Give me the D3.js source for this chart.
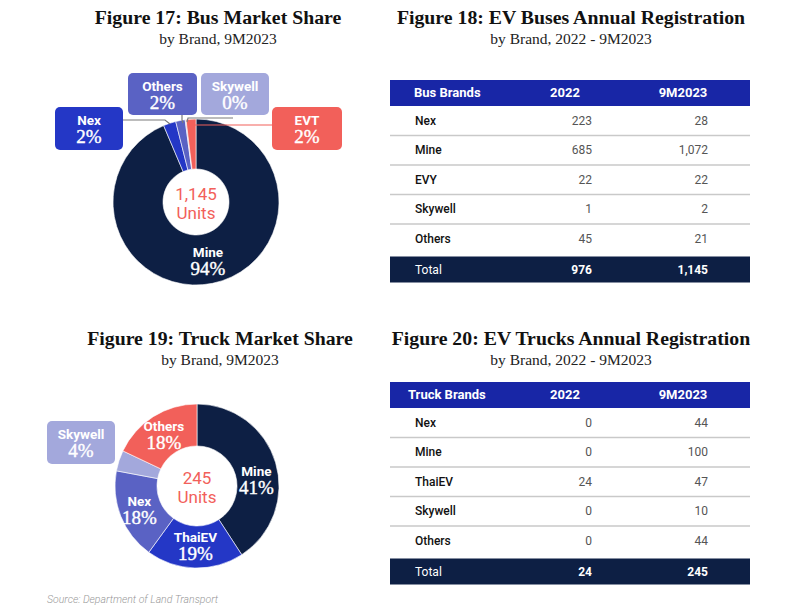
<!DOCTYPE html>
<html>
<head>
<meta charset="utf-8">
<script src="https://cdn.jsdelivr.net/npm/d3@7"></script>
<style>
  body { margin: 0; background: #fff; }
  svg text { font-family: Roboto, "Noto Sans", sans-serif; }
</style>
</head>
<body>
<div id="chart-area"></div>
<script>
// Table data (row order as in the tables)
const busBrands = ["Nex", "Mine", "EVY", "Skywell", "Others"];
const bus2022 = [223, 685, 22, 1, 45];
const bus9M2023 = [28, 1072, 22, 2, 21];
const busTotals = [976, 1145];

const truckBrands = ["Nex", "Mine", "ThaiEV", "Skywell", "Others"];
const truck2022 = [0, 0, 24, 0, 0];
const truck9M2023 = [44, 100, 47, 10, 44];
const truckTotals = [24, 245];

// Donut data (clockwise from 12 o'clock)
const busPieLabels = ["Mine", "Nex", "Others", "Skywell", "EVT"];
const busPieValues = [1072, 28, 21, 2, 22];
const truckPieLabels = ["Mine", "ThaiEV", "Nex", "Skywell", "Others"];
const truckPieValues = [100, 47, 44, 10, 44];

const colors = ["#0d1f44", "#2437c6", "#5a62c4", "#a3a8dc", "#f2605a"];
const serif = "'Liberation Serif', 'DejaVu Serif', serif";

const width = 793, height = 608;

const svg = d3.select("#chart-area")
    .append("svg")
    .attr("width", width)
    .attr("height", height);

svg.append("rect").attr("width", width).attr("height", height).attr("fill", "#fff");

// titles
function drawTitle(cx, y, title, sub) {
    svg.append("text")
        .attr("x", cx).attr("y", y)
        .attr("text-anchor", "middle")
        .style("font-family", serif)
        .style("font-weight", "bold")
        .style("font-size", "19.8px")
        .attr("fill", "#111")
        .text(title);
    svg.append("text")
        .attr("x", cx).attr("y", y + 20)
        .attr("text-anchor", "middle")
        .style("font-family", serif)
        .style("font-size", "15.5px")
        .attr("fill", "#222")
        .text(sub);
}
drawTitle(218, 24, "Figure 17: Bus Market Share", "by Brand, 9M2023");
drawTitle(571, 24, "Figure 18: EV Buses Annual Registration", "by Brand, 2022 - 9M2023");
drawTitle(220, 345, "Figure 19: Truck Market Share", "by Brand, 9M2023");
drawTitle(571, 345, "Figure 20: EV Trucks Annual Registration", "by Brand, 2022 - 9M2023");

// two-line label: bold brand name + serif percentage
function drawLabel(g, x, y, name, pct) {
    g.append("text")
        .attr("x", x).attr("y", y)
        .attr("text-anchor", "middle")
        .style("font-weight", "bold")
        .style("font-size", "13.5px")
        .attr("fill", "#fff")
        .text(name);
    g.append("text")
        .attr("x", x).attr("y", y + 18)
        .attr("text-anchor", "middle")
        .style("font-family", serif)
        .style("font-size", "19px")
        .attr("fill", "#fff")
        .attr("stroke", "#fff")
        .attr("stroke-width", 0.4)
        .text(pct);
}

function drawDonut(cx, cy, rOuter, rInner, labels, values, total, inside, boxes) {
    const g = svg.append("g").attr("transform", `translate(${cx},${cy})`);
    const pie = d3.pie().sort(null).value(d => d.value);
    const arcs = pie(labels.map((l, i) => ({ label: l, value: values[i], color: colors[i] })));
    const arc = d3.arc().innerRadius(rInner).outerRadius(rOuter);
    const sum = d3.sum(values);

    g.selectAll("path.slice")
        .data(arcs)
        .enter()
        .append("path")
        .attr("class", "slice")
        .attr("d", arc)
        .attr("fill", d => d.data.color)
        .attr("stroke", "#fff")
        .attr("stroke-width", 0.6);

    // centre text
    g.append("text").attr("x", 0).attr("y", -2)
        .attr("text-anchor", "middle")
        .style("font-size", "17px")
        .attr("fill", "#f2605a")
        .text(d3.format(",")(total));
    g.append("text").attr("x", 0).attr("y", 17)
        .attr("text-anchor", "middle")
        .style("font-size", "17px")
        .attr("fill", "#f2605a")
        .text("Units");

    const labelArc = d3.arc().innerRadius(inside.r).outerRadius(inside.r);
    arcs.forEach(a => {
        const pct = Math.round(a.data.value / sum * 100) + "%";
        if (a.data.label in inside.names) {
            const [x, y] = labelArc.centroid(a);
            drawLabel(g, x, y - 4 + inside.names[a.data.label], a.data.label, pct);
        }
        const b = boxes[a.data.label];
        if (b) {
            if (b.line) {
                svg.append("polyline")
                    .attr("points", b.line.map(p => p.join(",")).join(" "))
                    .attr("fill", "none")
                    .attr("stroke", b.lineColor || "#7a7a7a")
                    .attr("stroke-width", 1.2);
            }
            svg.append("rect")
                .attr("x", b.x).attr("y", b.y)
                .attr("width", b.w).attr("height", b.h)
                .attr("rx", 5)
                .attr("fill", a.data.color);
            drawLabel(svg, b.x + b.w / 2, b.y + 18, a.data.label, pct);
        }
    });
}

// inside.names: label -> extra vertical nudge
drawDonut(196, 202, 83, 33, busPieLabels, busPieValues, 1145,
    { r: 60, names: { "Mine": 0 } },
    {
        "Nex": { x: 55, y: 107, w: 68, h: 43, line: [[123, 120], [165, 120], [170, 124]] },
        "Others": { x: 128, y: 73, w: 69, h: 42, line: [[182, 115], [182, 120], [183, 123]] },
        "Skywell": { x: 201, y: 73, w: 68, h: 42, line: [[233, 118], [188, 118], [187, 122]] },
        "EVT": { x: 272, y: 107, w: 70, h: 43, lineColor: "#f2605a", line: [[190, 125], [272, 125]] }
    });

drawDonut(197, 486, 82, 40, truckPieLabels, truckPieValues, 245,
    { r: 62, names: { "Mine": 12, "ThaiEV": -2, "Nex": 1, "Others": 1 } },
    {
        "Skywell": { x: 47, y: 421, w: 68, h: 43 }
    });

// tables
function drawTable(x0, y0, headName, brands, v2022, v2023, totals) {
    const w = 360, headH = 26, rowH = 29.5;
    const g = svg.append("g");
    const fmt = d3.format(",");
    const colName = x0 + 25, col1 = x0 + 202, col2 = x0 + 318;

    g.append("rect").attr("x", x0).attr("y", y0).attr("width", w).attr("height", headH)
        .attr("fill", "#1826a6");
    g.append("text").attr("x", headName === "Bus Brands" ? x0 + 24 : x0 + 18).attr("y", y0 + 17)
        .style("font-weight", "bold").style("font-size", "13px").attr("fill", "#fff").text(headName);
    g.append("text").attr("x", x0 + 175).attr("y", y0 + 17).attr("text-anchor", "middle")
        .style("font-weight", "bold").style("font-size", "13px").attr("fill", "#fff").text("2022");
    g.append("text").attr("x", x0 + 293).attr("y", y0 + 17).attr("text-anchor", "middle")
        .style("font-weight", "bold").style("font-size", "13px").attr("fill", "#fff").text("9M2023");

    const y = d3.scaleBand().domain(brands).range([y0 + headH, y0 + headH + rowH * brands.length]);

    brands.forEach((b, i) => {
        const ry = y(b);
        const mid = ry + y.bandwidth() / 2 + 4;
        if (i < brands.length - 1) {
            g.append("line").attr("x1", x0).attr("x2", x0 + w)
                .attr("y1", ry + y.bandwidth()).attr("y2", ry + y.bandwidth())
                .attr("stroke", "#c9c9c9").attr("stroke-width", 1.5);
        }
        g.append("text").attr("x", colName).attr("y", mid)
            .style("font-weight", 500).style("font-size", "12px").attr("fill", "#111").text(b);
        g.append("text").attr("x", col1).attr("y", mid).attr("text-anchor", "end")
            .style("font-size", "12px").attr("fill", "#555").text(fmt(v2022[i]));
        g.append("text").attr("x", col2).attr("y", mid).attr("text-anchor", "end")
            .style("font-size", "12px").attr("fill", "#555").text(fmt(v2023[i]));
    });

    const ty = y0 + headH + rowH * brands.length + 3;
    g.append("rect").attr("x", x0).attr("y", ty).attr("width", w).attr("height", 26)
        .attr("fill", "#0d1f44");
    g.append("text").attr("x", colName).attr("y", ty + 17)
        .style("font-size", "12px").attr("fill", "#fff").text("Total");
    g.append("text").attr("x", col1).attr("y", ty + 17).attr("text-anchor", "end")
        .style("font-weight", "bold").style("font-size", "12px").attr("fill", "#fff").text(fmt(totals[0]));
    g.append("text").attr("x", col2).attr("y", ty + 17).attr("text-anchor", "end")
        .style("font-weight", "bold").style("font-size", "12px").attr("fill", "#fff").text(fmt(totals[1]));
}

drawTable(390, 80, "Bus Brands", busBrands, bus2022, bus9M2023, busTotals);
drawTable(390, 382, "Truck Brands", truckBrands, truck2022, truck9M2023, truckTotals);

// source
svg.append("text").attr("x", 47).attr("y", 603)
    .style("font-size", "10.5px").style("font-style", "italic").style("font-weight", 300)
    .attr("fill", "#999")
    .text("Source: Department of Land Transport");
</script>
</body>
</html>
